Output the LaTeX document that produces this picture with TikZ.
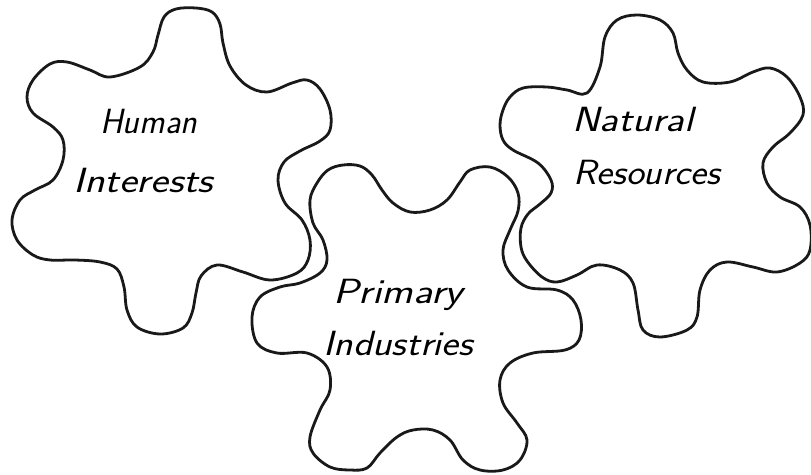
\documentclass[tikz,border=0pt]{standalone}
\usepackage{fontspec}
\usepackage{graphicx}
\newcommand{\fitword}[2]{\resizebox{#1}{\height}{#2}}
\begin{document}
\begin{tikzpicture}[x=1pt,y=-1pt,
  gear/.style={draw=black!90,line width=2.8pt,line join=round},
  hand/.style={inner sep=0pt,anchor=base west,font=\fontsize{35}{35}\selectfont\sffamily\itshape}]
\useasboundingbox (0,0) rectangle (811,474);
% Human Interests gear
\draw[gear] plot[smooth cycle,tension=0.6] coordinates {
(110,77)(140,67)(153,52)(158,35)(164,17)(176,9)(196,8)(212,12)(220,24)(223,43)(230,66)(246,85)(267,92)(292,83)(307,80)(320,89)(330,110)(330,130)(320,141)(300,151)(284,162)(278,180)(285,203)(302,220)(310,240)(308,260)(297,273)(270,280)(243,272)(217,265)(201,276)(196,293)(192,313)(183,328)(160,334)(137,327)(127,310)(124,287)(117,269)(100,262)(75,260)(50,260)(33,255)(17,240)(12,220)(20,200)(35,190)(53,180)(63,160)(63,140)(53,127)(33,113)(27,97)(33,80)(50,64)(67,62)(90,70)};
% Primary Industries gear
\draw[gear] plot[smooth cycle,tension=0.6] coordinates {
(310,200)(317,183)(328,170)(343,165)(360,166)(372,175)(382,190)(393,203)(410,212)(430,210)(447,200)(460,182)(470,170)(490,167)(508,177)(518,193)(518,211)(510,230)(503,250)(508,270)(527,287)(557,290)(573,300)(581,320)(579,340)(565,350)(533,353)(510,363)(500,380)(503,403)(517,423)(527,440)(520,460)(503,470)(480,470)(463,460)(450,440)(433,430)(413,430)(397,437)(380,453)(367,468)(350,470)(330,467)(313,453)(310,437)(320,410)(330,390)(327,367)(307,353)(277,353)(257,343)(252,317)(260,297)(280,287)(300,283)(320,273)(327,260)(323,240)(313,223)};
% Natural Resources gear
\draw[gear] plot[smooth cycle,tension=0.6] coordinates {
(587,93)(600,67)(605,37)(617,20)(637,15)(660,20)(673,33)(678,53)(687,70)(703,82)(730,82)(753,72)(770,68)(787,77)(800,97)(803,115)(790,133)(773,147)(763,163)(767,183)(780,197)(800,207)(810,225)(810,250)(800,263)(777,272)(753,267)(727,262)(710,270)(700,290)(697,317)(687,330)(660,337)(643,330)(638,310)(633,283)(620,270)(597,265)(577,275)(557,282)(542,277)(527,261)(521,247)(521,228)(528,214)(540,204)(551,193)(551,180)(538,163)(513,150)(503,140)(500,125)(503,110)(510,97)(523,88)(547,87)(567,90)};
% labels
\node[hand] (h1) at (100,133) {\fitword{97pt}{Human}};
\node[hand] (h2) at (73,192) {\fitword{140pt}{Interests}};
\node[hand] (n1) at (572,131) {\fitword{121pt}{Natural}};
\node[hand] (n2) at (573,184) {\fitword{147pt}{Resources}};
\node[hand] (p1) at (333,303) {\fitword{130pt}{Primary}};
\node[hand] (p2) at (323,355) {\fitword{150pt}{Industries}};
\end{tikzpicture}
\end{document}
